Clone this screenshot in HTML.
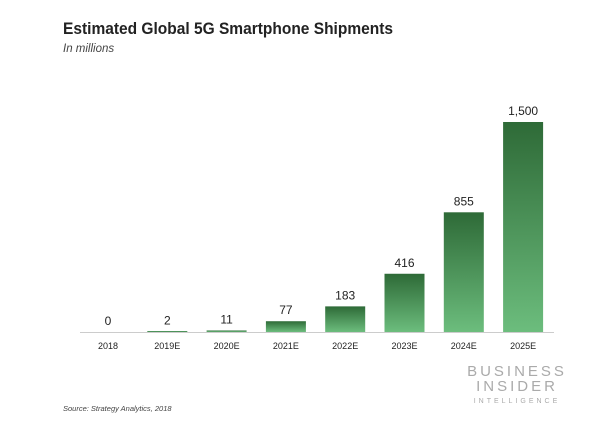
<!DOCTYPE html>
<html><head><meta charset="utf-8"><style>
body{margin:0;width:600px;height:419px;background:#fff;font-family:"Liberation Sans",sans-serif;overflow:hidden}
</style></head><body>
<svg width="600" height="419">
<defs><linearGradient id="g" x1="0" y1="0" x2="0" y2="1">
<stop offset="0" stop-color="#2e6a37"/><stop offset="1" stop-color="#6cbd7d"/></linearGradient></defs>
<text x="63" y="34" font-size="16.5" font-weight="bold" fill="#222" textLength="330" lengthAdjust="spacingAndGlyphs">Estimated Global 5G Smartphone Shipments</text>
<text x="63" y="52" font-size="11.5" font-style="italic" fill="#444">In millions</text>
<g id="bars"></g>
<line x1="80" y1="332.5" x2="554" y2="332.5" stroke="#ccc" stroke-width="1"/>
<text x="63" y="411" font-size="7.5" font-style="italic" fill="#444">Source: Strategy Analytics, 2018</text>
<g fill="#aaa" text-anchor="middle">
<text x="517" y="376" font-size="15" letter-spacing="3">BUSINESS</text>
<text x="517" y="391" font-size="15" letter-spacing="3">INSIDER</text>
<text x="517" y="403" font-size="7" letter-spacing="3">INTELLIGENCE</text>
</g>
</svg>
<script>
const categories=["2018","2019E","2020E","2021E","2022E","2023E","2024E","2025E"];
const values=[0,2,11,77,183,416,855,1500];
const labels=["0","2","11","77","183","416","855","1,500"];
const ns="http://www.w3.org/2000/svg";
const g=document.getElementById("bars");
const base=332,scale=210/1500,x0=108,step=59.3,bw=40;
const xs=i=>x0+i*step, ys=v=>base-v*scale;
categories.forEach((c,i)=>{
  const h=Math.max(values[i]*scale,values[i]>0?1:0);
  const r=document.createElementNS(ns,"rect");
  r.setAttribute("x",xs(i)-bw/2);r.setAttribute("y",base-h);
  r.setAttribute("width",bw);r.setAttribute("height",h);r.setAttribute("fill","url(#g)");
  
  
  g.appendChild(r);
  const t=document.createElementNS(ns,"text");
  t.setAttribute("x",xs(i));t.setAttribute("y",ys(values[i])-7);
  t.setAttribute("text-anchor","middle");t.setAttribute("font-size","12");t.setAttribute("fill","#222");
  t.textContent=labels[i];
  
  
  g.appendChild(t);
  const l=document.createElementNS(ns,"text");
  l.setAttribute("x",xs(i));l.setAttribute("y",349);
  l.setAttribute("text-anchor","middle");l.setAttribute("font-size","9");l.setAttribute("fill","#222");
  l.textContent=c;
  
  
  g.appendChild(l);
});
</script>
</body></html>
